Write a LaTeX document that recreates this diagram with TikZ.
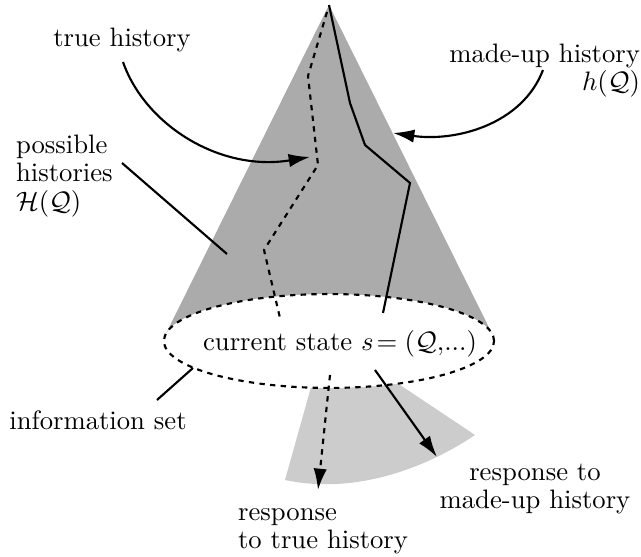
\documentclass[tikz,border=0pt]{standalone}
\usetikzlibrary{arrows.meta}
\begin{document}
\begin{tikzpicture}[x=0.375pt,y=-0.375pt, line width=0.8pt,
  lab/.style={inner sep=0pt, font={\fontsize{10}{10.6}\selectfont}},
  tip/.style={-{Latex[length=8pt,width=5pt]}},
  dsh/.style={dash pattern=on 2pt off 2pt},
  conefill/.style={fill=black!33},
  fanfill/.style={fill=black!20}]
\useasboundingbox (0,0) rectangle (641,557);
% response fan
\fill[fanfill] (313,380) -- (285,480) .. controls (350,494) and (420,472) .. (475,435) -- (385,375) -- cycle;
% cone
\coordinate (apex) at (329,5);
\coordinate (tl) at (165.6,334.4);
\coordinate (tr) at (492.4,334.4);
\coordinate (ctr) at (329,341);
\fill[conefill] (apex) -- (tl) -- (tr) -- cycle;
\fill[white] (ctr) ellipse [x radius=61.9pt, y radius=17.6pt];
\draw[dsh] (ctr) ellipse [x radius=61.9pt, y radius=17.6pt];
% true history (dashed)
\coordinate (t0) at (327,12);
\coordinate (t1) at (308,76);
\coordinate (t2) at (318,165);
\coordinate (t3) at (264,250);
\coordinate (t4) at (280,318);
\draw[dsh] (t0) -- (t1) -- (t2) -- (t3) -- (t4);
% made-up history (solid)
\coordinate (m1) at (350,103);
\coordinate (m2) at (365,145);
\coordinate (m3) at (410,183);
\coordinate (m4) at (383,313);
\draw (apex) -- (m1) -- (m2) -- (m3) -- (m4);
% labels
\node[lab] (lTrue) at (122,40) {true history};
\node[lab, align=left, anchor=west] (lPoss) at (15,176) {possible\\histories\\$\mathcal{H}(\mathcal{Q})$};
\node[lab, align=right, anchor=north east] (lMade) at (641,43) {made-up history\\$h(\mathcal{Q})$};
\node[lab] (lState) at (340,344) {current state $s\!=(\mathcal{Q},\!...)$};
\node[lab] (lInfo) at (98,420) {information set};
\node[lab, align=center] (lRespM) at (535,489) {response to\\made-up history};
\node[lab, align=left, anchor=north west] (lRespT) at (237,507) {response\\to true history};
% connectors
\coordinate (a1s) at (123,62);
\coordinate (a1e) at (310,157);
\draw[tip] (a1s) .. controls (145,125) and (220,172) .. (a1e);
\coordinate (a2s) at (543,70);
\coordinate (a2e) at (393,133);
\draw[tip] (a2s) .. controls (522,125) and (455,142) .. (a2e);
\coordinate (p1) at (122,163);
\coordinate (p2) at (227,254);
\draw (p1) -- (p2);
\coordinate (i1) at (193,368);
\coordinate (i2) at (157,400);
\draw (i1) -- (i2);
\coordinate (r1s) at (330,375);
\coordinate (r1e) at (318,490);
\draw[dsh, tip] (r1s) -- (r1e);
\coordinate (r2s) at (375,370);
\coordinate (r2e) at (437,457);
\draw[tip] (r2s) -- (r2e);
\end{tikzpicture}
\end{document}
